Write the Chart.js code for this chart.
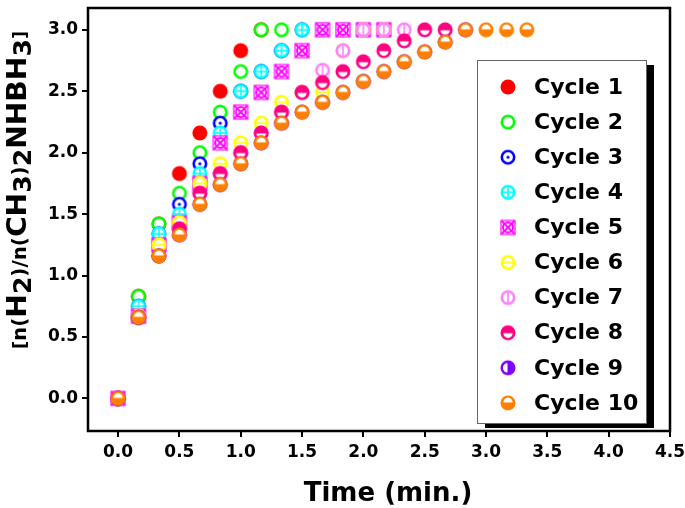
<!DOCTYPE html>
<html>
<head>
<meta charset="utf-8">
<script src="https://cdn.jsdelivr.net/npm/chart.js@4"></script>
<style>
  html, body { margin: 0; padding: 0; background: #fff; }
</style>
</head>
<body>
<canvas id="chart" width="685" height="508"></canvas>
<script>
// time axis (min.), one reading every 10 s
const time = [0, 0.167, 0.333, 0.5, 0.667, 0.833, 1.0, 1.167, 1.333, 1.5, 1.667,
  1.833, 2.0, 2.167, 2.333, 2.5, 2.667, 2.833, 3.0, 3.167, 3.333];
const xTicks = [0, 0.5, 1.0, 1.5, 2.0, 2.5, 3.0, 3.5, 4.0, 4.5];
const yTicks = [0, 0.5, 1.0, 1.5, 2.0, 2.5, 3.0];

const cycleLabels = ['Cycle 1', 'Cycle 2', 'Cycle 3', 'Cycle 4', 'Cycle 5',
  'Cycle 6', 'Cycle 7', 'Cycle 8', 'Cycle 9', 'Cycle 10'];

// n(H2)/n(DMAB) per cycle
const cycle1 = [0, 0.83, 1.42, 1.83, 2.16, 2.50, 2.83, 3.00];
const cycle2 = [0, 0.83, 1.42, 1.67, 2.00, 2.33, 2.66, 3.00, 3.00];
const cycle3 = [0, 0.75, 1.34, 1.58, 1.91, 2.24, 2.50, 2.66, 2.83, 3.00];
const cycle4 = [0, 0.75, 1.34, 1.50, 1.83, 2.16, 2.50, 2.66, 2.83, 3.00, 3.00, 3.00];
const cycle5 = [0, 0.67, 1.25, 1.43, 1.75, 2.08, 2.33, 2.49, 2.66, 2.83, 3.00, 3.00, 3.00, 3.00];
const cycle6 = [0, 0.67, 1.25, 1.43, 1.75, 1.91, 2.08, 2.24, 2.41, 2.49, 2.49, 2.83, 3.00, 3.00];
const cycle7 = [0, 0.66, 1.16, 1.38, 1.67, 1.83, 2.00, 2.16, 2.33, 2.49, 2.67, 2.83, 3.00, 3.00, 3.00];
const cycle8 = [0, 0.66, 1.16, 1.38, 1.67, 1.83, 2.00, 2.16, 2.33, 2.49, 2.57, 2.66, 2.74, 2.83, 2.91, 3.00, 3.00];
const cycle9 = [0, 0.66, 1.16, 1.33, 1.58, 1.74, 1.91, 2.08, 2.24, 2.33, 2.41, 2.49, 2.58, 2.66, 2.74, 2.82, 2.90, 3.00];
const cycle10 = [0, 0.66, 1.16, 1.33, 1.58, 1.74, 1.91, 2.08, 2.24, 2.33, 2.41, 2.49, 2.58, 2.66, 2.74, 2.82, 2.90, 3.00, 3.00, 3.00, 3.00];

const allCycles = [cycle1, cycle2, cycle3, cycle4, cycle5, cycle6, cycle7, cycle8, cycle9, cycle10];
const colors = ['#ff0000', '#00ff00', '#0000ff', '#00ffff', '#ff00ff',
  '#ffff00', '#ff80ff', '#ff0080', '#8000ff', '#ff8000'];
const kinds = ['filled', 'open', 'dot', 'plus', 'boxx', 'hline', 'vline', 'botWhite', 'leftWhite', 'topWhite'];

const FONT = '"DejaVu Sans", sans-serif';

// build an Origin-like symbol on a small canvas
function makeMarker(kind, color) {
  const r = 7.5, size = 20, c = size / 2;
  const cv = document.createElement('canvas');
  cv.width = size; cv.height = size;
  const g = cv.getContext('2d');
  g.strokeStyle = color;
  g.fillStyle = color;

  const ring = () => {
    g.beginPath();
    g.arc(c, c, r - 1.3, 0, Math.PI * 2);
    g.fillStyle = '#fff';
    g.fill();
    g.lineWidth = 2.6;
    g.stroke();
    g.fillStyle = color;
  };
  const disk = () => {
    g.beginPath();
    g.arc(c, c, r, 0, Math.PI * 2);
    g.fill();
  };
  const line = (x1, y1, x2, y2, w) => {
    g.lineWidth = w;
    g.beginPath(); g.moveTo(x1, y1); g.lineTo(x2, y2); g.stroke();
  };

  if (kind === 'filled') disk();
  else if (kind === 'open') ring();
  else if (kind === 'dot') {
    ring();
    g.beginPath(); g.arc(c, c, 1.6, 0, Math.PI * 2); g.fill();
  } else if (kind === 'plus') {
    ring();
    line(c - r + 2, c, c + r - 2, c, 1.6);
    line(c, c - r + 2, c, c + r - 2, 1.6);
  } else if (kind === 'boxx') {
    g.fillStyle = '#fff';
    g.fillRect(c - r, c - r, 2 * r, 2 * r);
    g.lineWidth = 1.2;
    g.strokeRect(c - r + 0.5, c - r + 0.5, 2 * r - 1, 2 * r - 1);
    g.beginPath(); g.arc(c, c, r - 2.5, 0, Math.PI * 2); g.lineWidth = 2; g.stroke();
    line(c - r + 1, c - r + 1, c + r - 1, c + r - 1, 1.8);
    line(c + r - 1, c - r + 1, c - r + 1, c + r - 1, 1.8);
  } else if (kind === 'hline') {
    ring();
    line(c - r + 1.5, c, c + r - 1.5, c, 1.6);
  } else if (kind === 'vline') {
    ring();
    line(c, c - r + 1.5, c, c + r - 1.5, 1.6);
  } else {
    disk();
    g.fillStyle = '#fff';
    g.beginPath();
    if (kind === 'botWhite') g.arc(c, c + 0.5, r * 0.62, 0, Math.PI);
    else if (kind === 'topWhite') g.arc(c, c - 0.5, r * 0.62, Math.PI, Math.PI * 2);
    else g.arc(c - 0.5, c, r * 0.62, Math.PI / 2, Math.PI * 1.5);
    g.closePath();
    g.fill();
  }
  return cv;
}

const markers = kinds.map((k, i) => makeMarker(k, colors[i]));

const datasets = allCycles.map((vals, i) => ({
  label: cycleLabels[i],
  data: vals.map((v, j) => ({ x: time[j], y: v })),
  pointStyle: markers[i],
  pointRadius: 7,
  pointHoverRadius: 7,
  showLine: false,
  order: allCycles.length - i   // later cycles drawn on top
}));

// frame round the plot area
const framePlugin = {
  id: 'frame',
  afterDatasetsDraw(chart) {
    const { ctx, chartArea: a } = chart;
    ctx.save();
    ctx.strokeStyle = '#000';
    ctx.lineWidth = 2.5;
    ctx.strokeRect(a.left, a.top, a.right - a.left, a.bottom - a.top);
    ctx.restore();
  }
};

// boxed legend with drop shadow, inside the plot
const legendPlugin = {
  id: 'boxLegend',
  afterDraw(chart) {
    const { ctx, chartArea: a } = chart;
    const x0 = a.right - 193, y0 = a.top + 52, w = 169, h = 363;
    ctx.save();
    ctx.fillStyle = '#000';
    ctx.fillRect(x0 + 8, y0 + 5, w, h);
    ctx.fillStyle = '#fff';
    ctx.fillRect(x0, y0, w, h);
    ctx.strokeStyle = '#666';
    ctx.lineWidth = 1;
    ctx.strokeRect(x0 + 0.5, y0 + 0.5, w, h);
    ctx.font = 'bold 22px ' + FONT;
    ctx.textBaseline = 'middle';
    ctx.fillStyle = '#000';
    cycleLabels.forEach((lab, i) => {
      const y = y0 + 27 + i * 35.1;
      const m = markers[i];
      ctx.drawImage(m, x0 + 31 - m.width / 2, y - m.height / 2);
      ctx.fillText(lab, x0 + 57, y + 1);
    });
    ctx.restore();
  }
};

// axis titles, the y one with subscripts
const titlePlugin = {
  id: 'titles',
  afterDraw(chart) {
    const { ctx, chartArea: a } = chart;
    ctx.save();
    ctx.fillStyle = '#000';
    ctx.textAlign = 'center';
    ctx.textBaseline = 'middle';
    ctx.font = 'bold 26px ' + FONT;
    ctx.fillText('Time (min.)', (a.left + a.right) / 2 + 9, 494);

    const parts = [
      { t: '[', s: 17, dy: 0 }, { t: 'n(', s: 19, dy: 0 }, { t: 'H', s: 27, dy: 0 },
      { t: '2', s: 24, dy: 5 }, { t: ')/n(', s: 19, dy: 0 }, { t: 'CH', s: 27, dy: 0 },
      { t: '3', s: 24, dy: 5 }, { t: ')', s: 19, dy: 0 }, { t: '2', s: 24, dy: 5 },
      { t: 'NHBH', s: 27, dy: 0 }, { t: '3', s: 24, dy: 5 }, { t: ']', s: 17, dy: 0 }
    ];
    ctx.textAlign = 'left';
    ctx.textBaseline = 'alphabetic';
    let total = 0;
    parts.forEach(p => {
      ctx.font = 'bold ' + p.s + 'px ' + FONT;
      p.w = ctx.measureText(p.t).width;
      total += p.w;
    });
    const target = 318;
    ctx.translate(18, 190);
    ctx.rotate(-Math.PI / 2);
    ctx.scale(target / total, 1);
    let x = -total / 2;
    parts.forEach(p => {
      ctx.font = 'bold ' + p.s + 'px ' + FONT;
      ctx.fillText(p.t, x, 8 + p.dy);
      x += p.w;
    });
    ctx.restore();
  }
};

const tickFont = { family: FONT, size: 17, weight: 'bold' };

new Chart(document.getElementById('chart').getContext('2d'), {
  type: 'scatter',
  data: { datasets },
  options: {
    responsive: false,
    animation: false,
    devicePixelRatio: 1,
    layout: { padding: { top: 3, right: 15, left: 0, bottom: 0 } },
    plugins: {
      legend: { display: false },
      tooltip: { enabled: false }
    },
    scales: {
      x: {
        type: 'linear',
        min: -0.245,
        max: 4.5,
        afterBuildTicks: s => { s.ticks = xTicks.map(v => ({ value: v })); },
        afterFit: s => { s.height = 77; s.paddingLeft = 0; s.paddingRight = 0; },
        ticks: {
          font: tickFont, color: '#000', padding: 5, autoSkip: false, maxRotation: 0,
          callback: v => v.toFixed(1)
        },
        grid: { drawOnChartArea: false, drawTicks: true, tickLength: 6, color: '#000', lineWidth: 2 },
        border: { display: false }
      },
      y: {
        type: 'linear',
        min: -0.265,
        max: 3.177,
        afterBuildTicks: s => { s.ticks = yTicks.map(v => ({ value: v })); },
        afterFit: s => { s.width = 88; s.paddingTop = 0; s.paddingBottom = 0; },
        ticks: {
          font: tickFont, color: '#000', padding: 4,
          callback: v => v.toFixed(1)
        },
        grid: { drawOnChartArea: false, drawTicks: true, tickLength: 6, color: '#000', lineWidth: 2 },
        border: { display: false }
      }
    }
  },
  plugins: [framePlugin, legendPlugin, titlePlugin]
});
</script>
</body>
</html>
